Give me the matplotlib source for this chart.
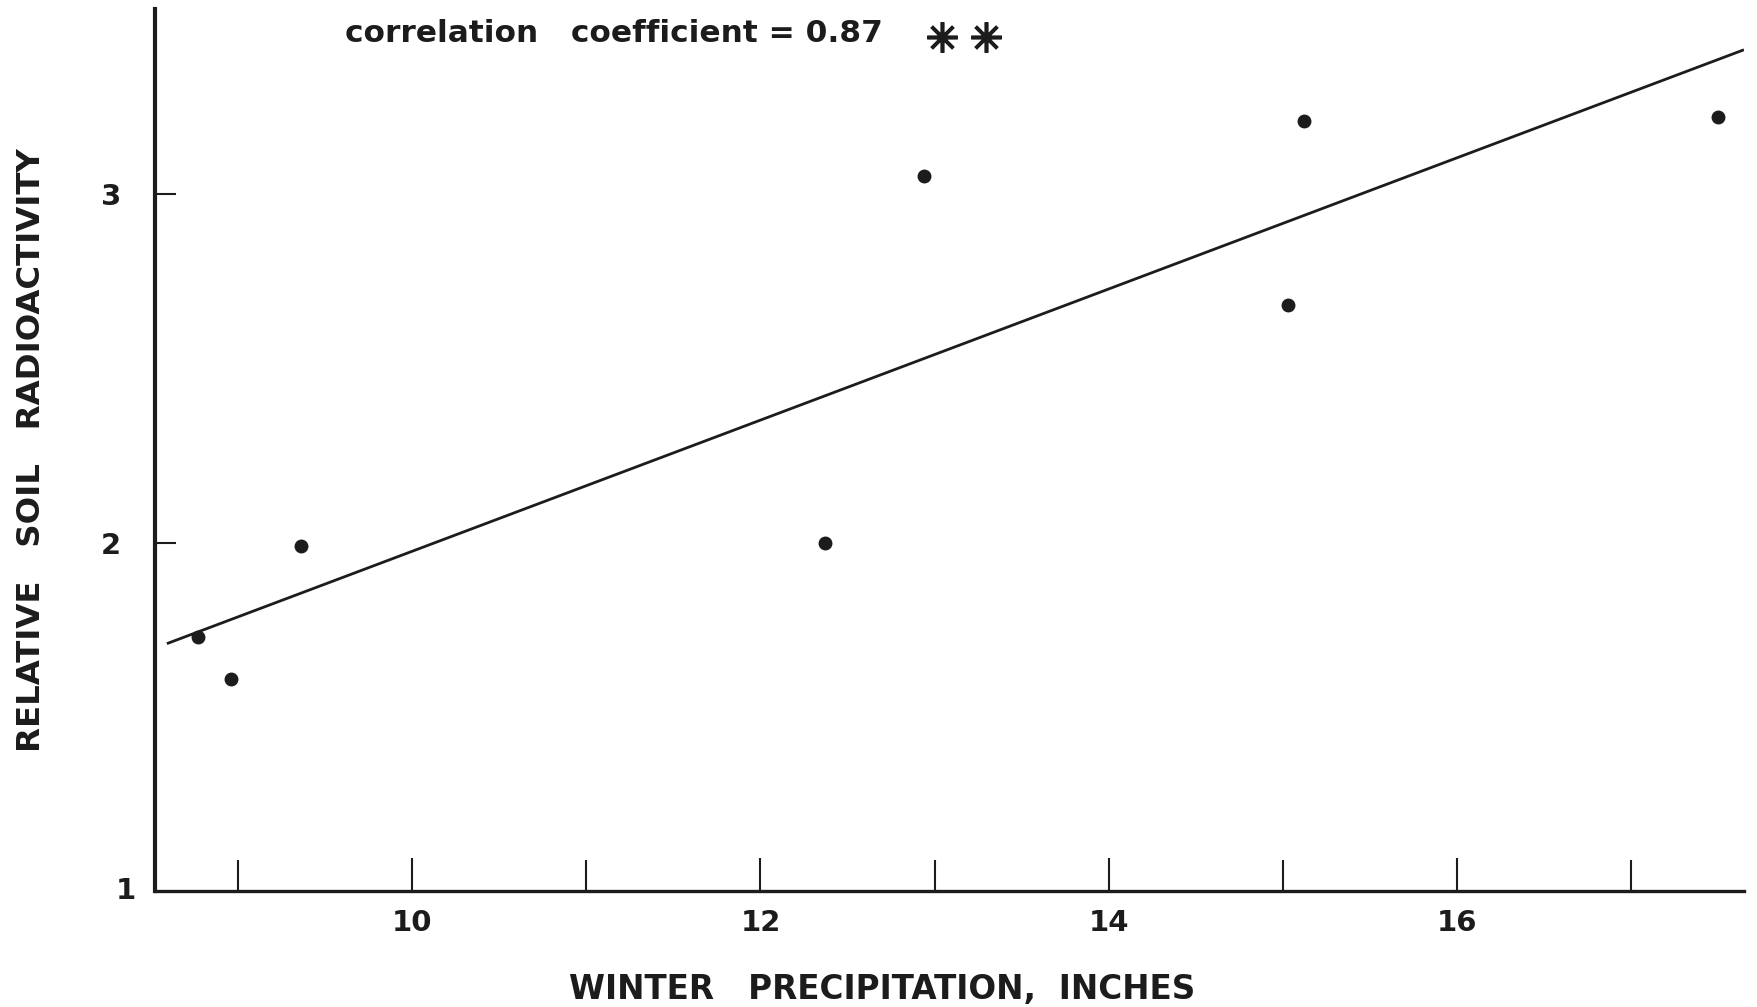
import numpy as np
import matplotlib
matplotlib.use("Agg")
import matplotlib.pyplot as plt
from matplotlib.ticker import FixedLocator

# winter precipitation (inches) vs relative soil radioactivity
precip = [8.77, 8.96, 9.36, 12.37, 12.94, 15.03, 15.12, 17.50]
radio = [1.73, 1.61, 1.99, 2.00, 3.05, 2.68, 3.21, 3.22]

# fitted line as drawn
fit_x = [8.59, 17.65]
fit_slope = 0.188
fit_icpt = 1.71 - 0.188 * 8.59

x_major = [10, 12, 14, 16]
x_minor = [9, 11, 13, 15, 17]
y_major = [2, 3]

ink = "#1c1c1c"
plt.rcParams["font.family"] = ["DejaVu Sans"]

fig = plt.figure(figsize=(17.58, 10.07), dpi=100)
ax = fig.add_axes([0.088, 0.115, 0.904, 0.876])

ax.set_xlim(8.52, 17.65)
ax.set_ylim(1, 3.53)

ax.plot(precip, radio, "o", color=ink, markersize=9, zorder=3)
fx = np.array(fit_x)
ax.plot(fx, fit_icpt + fit_slope * fx, color=ink, lw=2.0, solid_capstyle="butt")

for s in ["top", "right"]:
    ax.spines[s].set_visible(False)
ax.spines["left"].set_linewidth(3.0)
ax.spines["bottom"].set_linewidth(2.4)
ax.spines["left"].set_color(ink)
ax.spines["bottom"].set_color(ink)

ax.xaxis.set_major_locator(FixedLocator(x_major))
ax.xaxis.set_minor_locator(FixedLocator(x_minor))
ax.set_xticklabels([str(v) for v in x_major], fontweight="bold")
ax.tick_params(axis="x", which="both", direction="in", length=24, width=1.5,
               color=ink, labelsize=21, labelcolor=ink, pad=13)
ax.tick_params(axis="x", which="minor", length=22)

ax.yaxis.set_major_locator(FixedLocator(y_major))
ax.set_yticklabels([str(v) for v in y_major], fontweight="bold")
ax.tick_params(axis="y", direction="in", length=15, width=1.5,
               color=ink, labelsize=21, labelcolor=ink, pad=24)
# the origin value is lettered without a tick
ax.text(-0.018, 0, "1", transform=ax.transAxes, ha="center", va="center",
        fontsize=21, fontweight="bold", color=ink)

ax.set_xlabel("WINTER   PRECIPITATION,  INCHES", fontsize=23.5, color=ink,
              fontweight="bold")
ax.xaxis.set_label_coords(0.458, -0.093)
ax.set_ylabel("RELATIVE   SOIL   RADIOACTIVITY", fontsize=23.3, color=ink,
              fontweight="bold")
ax.yaxis.set_label_coords(-0.068, 0.5)

fig.text(0.196, 0.967, "correlation   coefficient = 0.87", fontsize=22.5,
         fontweight="bold", color=ink, ha="left", va="center")
# significance stars
ax.plot([0.536, 0.561], [0.963, 0.963], transform=fig.transFigure,
        linestyle="none", marker=(8, 2, 0), markersize=22, mew=2.6,
        color=ink, clip_on=False)

fig.savefig("out.png", dpi=100, facecolor="white")
